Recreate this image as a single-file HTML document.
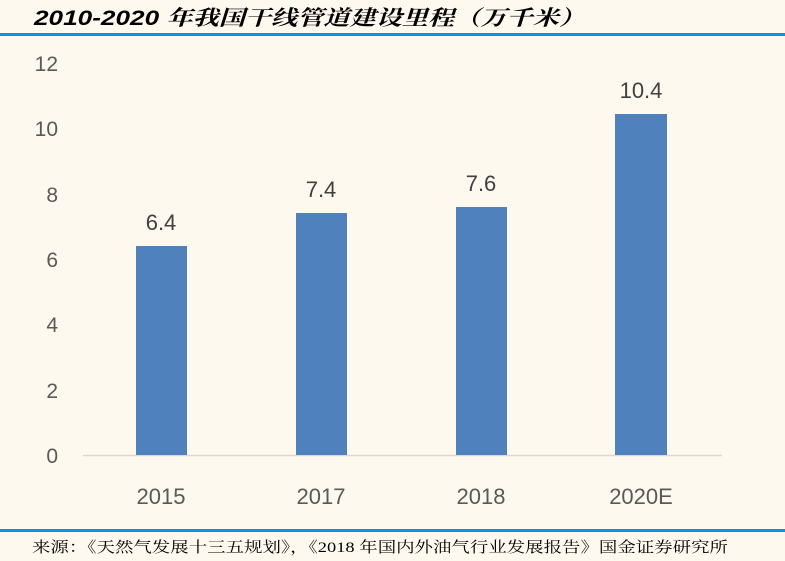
<!DOCTYPE html>
<html><head><meta charset="utf-8"><style>
html,body{margin:0;padding:0;background:#FEF9EF;}
svg{display:block}
</style></head><body>
<svg width="785" height="561" viewBox="0 0 785 561" xmlns="http://www.w3.org/2000/svg">
<rect width="785" height="561" fill="#FEF9EF"/>
<text x="34" y="25" font-family="Liberation Sans, 'Noto Serif CJK SC', 'Noto Sans CJK SC', sans-serif" font-size="21" font-weight="bold" font-style="italic" fill="#000" textLength="551" lengthAdjust="spacingAndGlyphs">2010-2020 年我国干线管道建设里程（万千米）</text>
<rect x="0" y="33" width="785" height="3" fill="#0A96DC"/>
<rect x="0" y="529" width="785" height="3" fill="#0A96DC"/>
<text x="32" y="552" font-family="Liberation Serif, 'Noto Serif CJK SC', serif" font-size="15" fill="#000" textLength="696" lengthAdjust="spacingAndGlyphs">来源：《天然气发展十三五规划》，《2018 年国内外油气行业发展报告》国金证券研究所</text>
<g font-family="Liberation Sans, sans-serif" font-size="21" fill="#595959" text-anchor="end">
<text x="58" y="463">0</text>
<text x="58" y="398">2</text>
<text x="58" y="332">4</text>
<text x="58" y="267">6</text>
<text x="58" y="202">8</text>
<text x="58" y="136">10</text>
<text x="58" y="71">12</text>
</g>
<line x1="83" y1="455.5" x2="722" y2="455.5" stroke="#D9D9D9" stroke-width="1.5"/>
<g fill="#4F81BD">
<rect x="136" y="246" width="51" height="209"/>
<rect x="296" y="213" width="51" height="242"/>
<rect x="456" y="207" width="51" height="248"/>
<rect x="615" y="114" width="52" height="341"/>
</g>
<g font-family="Liberation Sans, sans-serif" font-size="22" fill="#404040" text-anchor="middle">
<text x="161" y="230">6.4</text>
<text x="321" y="197">7.4</text>
<text x="481" y="191">7.6</text>
<text x="641" y="98">10.4</text>
</g>
<g font-family="Liberation Sans, sans-serif" font-size="22" fill="#595959" text-anchor="middle">
<text x="161" y="504">2015</text>
<text x="321" y="504">2017</text>
<text x="481" y="504">2018</text>
<text x="641" y="504">2020E</text>
</g>
</svg>
</body></html>
